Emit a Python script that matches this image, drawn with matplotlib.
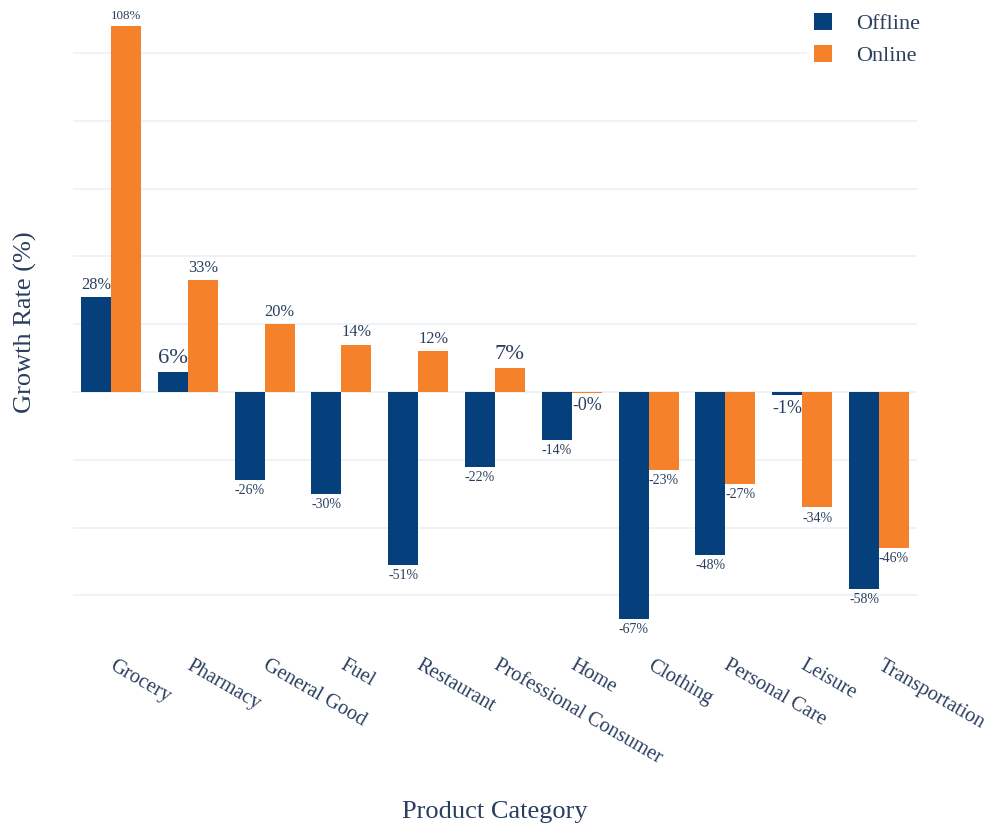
import matplotlib
matplotlib.use('Agg')
import matplotlib.pyplot as plt
import numpy as np

plt.rcParams['font.family'] = ['Liberation Serif', 'DejaVu Serif']

categories = ['Grocery', 'Pharmacy', 'General Good', 'Fuel', 'Restaurant',
              'Professional Consumer', 'Home', 'Clothing', 'Personal Care',
              'Leisure', 'Transportation']
offline = [28, 6, -26, -30, -51, -22, -14, -67, -48, -1, -58]
online = [108, 33, 20, 14, 12, 7, -0.2, -23, -27, -34, -46]

navy = '#053f7c'
orange = '#f5822b'
txt = '#2a3f5f'

fig = plt.figure(figsize=(9.95, 8.31), dpi=100)
ax = fig.add_axes([72.6 / 995, (831 - 645) / 831, 844.8 / 995, 630 / 831])

x = np.arange(len(categories))
w = 0.39
b1 = ax.bar(x - w / 2, offline, w, color=navy, label='Offline', zorder=3)
b2 = ax.bar(x + w / 2, online, w, color=orange, label='Online', zorder=3)

ax.set_xlim(-0.5, len(categories) - 0.5)
ax.set_ylim(-74.6, 111.2)
ax.set_yticks(np.arange(-60, 101, 20))
ax.yaxis.grid(True, color='#ebf0f8', lw=1.2, zorder=0)
ax.tick_params(axis='y', length=0, labelleft=False)
ax.tick_params(axis='x', length=0, pad=14, labelsize=14.8, labelcolor=txt)
ax.set_xticks(x)
ax.set_xticklabels(categories, rotation=-30, ha='left', va='center',
                   rotation_mode='anchor')
for s in ax.spines.values():
    s.set_visible(False)

# value labels, shrunk to the bar width
labels = []
for bars, vals in [(b1, offline), (b2, online)]:
    for rect, v in zip(bars, vals):
        cx = rect.get_x() + rect.get_width() / 2
        off = 3 if v >= 0 else -3
        t = ax.annotate(f'{v:.0f}%', (cx, v), xytext=(0, off),
                        textcoords='offset points', ha='center',
                        va='bottom' if v >= 0 else 'top',
                        fontsize=16, color=txt, zorder=4)
        labels.append(t)

fig.canvas.draw()
r = fig.canvas.get_renderer()
bar_px = ax.transData.transform((w, 0))[0] - ax.transData.transform((0, 0))[0]
for t in labels:
    tw = t.get_window_extent(r).width
    t.set_fontsize(16 * bar_px / tw)

fig.text(25 / 995, 1 - 322 / 831, 'Growth Rate (%)', rotation=90,
         ha='center', va='center', fontsize=19, color=txt)
fig.text(495 / 995, 1 - 812 / 831, 'Product Category',
         ha='center', va='center', fontsize=19, color=txt)

leg = fig.legend(handles=[b1, b2], loc='upper left',
                 bbox_to_anchor=(796 / 995, 1.006), fontsize=16,
                 handlelength=0.8, handleheight=0.8, handletextpad=1.1,
                 labelspacing=0.5, frameon=True, facecolor='white',
                 edgecolor='none', framealpha=1, borderpad=0.3)
for t in leg.get_texts():
    t.set_color(txt)

fig.savefig('out.png', dpi=100, facecolor='white')
